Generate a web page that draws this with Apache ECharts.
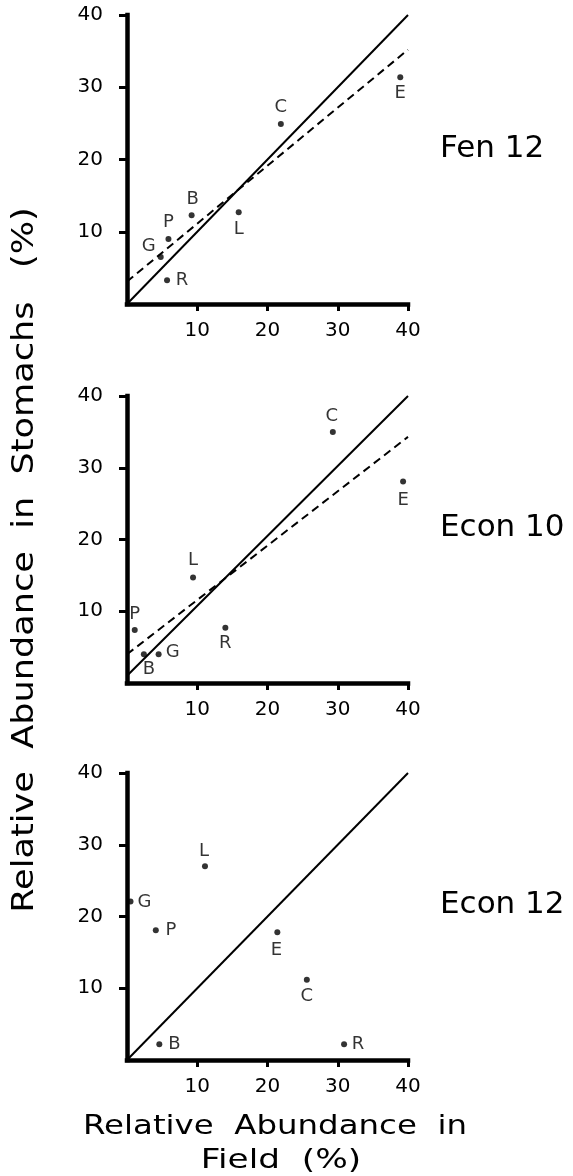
<!DOCTYPE html>
<html><head><meta charset="utf-8">
<script src="https://cdn.jsdelivr.net/npm/echarts@6/dist/echarts.min.js"></script>
<style>html,body{margin:0;padding:0;background:#fff}#c{width:573px;height:1176px}</style>
</head><body><div id="c"></div>
<script>
// ---- data ----
const panelNames = ['Fen 12', 'Econ 10', 'Econ 12'];
const tickValues = [10, 20, 30, 40];

const fen12Letters = ['C', 'E', 'B', 'L', 'P', 'G', 'R'];
const fen12Field   = [21.9, 38.9, 9.2, 15.9, 5.9, 4.8, 5.7];
const fen12Stomach = [24.9, 31.4, 12.3, 12.7, 9.0, 6.5, 3.3];
const fen12Solid   = [[0, 0], [40, 40]];
const fen12Dashed  = [[0, 3.1], [40, 35.2]];

const econ10Letters = ['C', 'E', 'L', 'R', 'P', 'B', 'G'];
const econ10Field   = [29.3, 39.3, 9.4, 14.0, 1.1, 2.4, 4.5];
const econ10Stomach = [35.0, 28.1, 14.7, 7.7, 7.4, 4.0, 4.0];
const econ10Solid   = [[0, 1], [40, 40]];
const econ10Dashed  = [[0, 4.0], [40, 34.3]];

const econ12Letters = ['L', 'G', 'P', 'E', 'C', 'B', 'R'];
const econ12Field   = [11.1, 0.5, 4.1, 21.4, 25.6, 4.6, 30.9];
const econ12Stomach = [27.0, 22.1, 18.1, 17.8, 11.2, 2.2, 2.2];
const econ12Solid   = [[0, 0], [40, 40]];

// ---- label placement (offset of letter from its dot, px) ----
const labelOffsets = [
  {C:[0,-17], E:[0,16], B:[1,-16], L:[0,17], P:[0,-17], G:[-12,-11], R:[15,0]},
  {C:[-1,-16], E:[0,19], L:[0,-17], R:[0,16], P:[0,-16], B:[5,15], G:[14,-2]},
  {L:[-1,-15], G:[14,1], P:[15,0], E:[-1,18], C:[0,17], B:[15,0], R:[14,0]}
];

const panels = [
  {letters: fen12Letters, xs: fen12Field, ys: fen12Stomach, solid: fen12Solid, dashed: fen12Dashed},
  {letters: econ10Letters, xs: econ10Field, ys: econ10Stomach, solid: econ10Solid, dashed: econ10Dashed},
  {letters: econ12Letters, xs: econ12Field, ys: econ12Stomach, solid: econ12Solid, dashed: null}
];

const FONT = 'DejaVu Sans';
const grids = [
  {left: 127, width: 281, top: 15, height: 289},
  {left: 127, width: 281, top: 396, height: 287},
  {left: 127, width: 281, top: 773, height: 287}
];

const xAxes = [], yAxes = [], series = [];
panels.forEach((p, i) => {
  xAxes.push({
    type: 'value', gridIndex: i, min: 0, max: 40, interval: 10,
    axisLine: {show: true, lineStyle: {color: '#000', width: 4.5, cap: 'square'}},
    axisTick: {show: true, customValues: tickValues, length: 7, lineStyle: {color: '#000', width: 3}},
    axisLabel: {customValues: tickValues, color: '#000', fontSize: 20, fontFamily: FONT, margin: 17},
    splitLine: {show: false}
  });
  yAxes.push({
    type: 'value', gridIndex: i, min: 0, max: 40, interval: 10,
    axisLine: {show: true, lineStyle: {color: '#000', width: 4.5, cap: 'square'}},
    axisTick: {show: true, customValues: tickValues, length: 8, lineStyle: {color: '#000', width: 3}},
    axisLabel: {customValues: tickValues, color: '#000', fontSize: 20, fontFamily: FONT, margin: 24},
    splitLine: {show: false}
  });
  series.push({
    type: 'line', xAxisIndex: i, yAxisIndex: i, data: p.solid, symbol: 'none',
    lineStyle: {color: '#000', width: 2}, silent: true, z: 3
  });
  if (p.dashed) {
    series.push({
      type: 'line', xAxisIndex: i, yAxisIndex: i, data: p.dashed, symbol: 'none',
      lineStyle: {color: '#000', width: 2, type: [8, 5]}, silent: true, z: 3
    });
  }
  series.push({
    type: 'scatter', xAxisIndex: i, yAxisIndex: i, symbolSize: 6,
    itemStyle: {color: '#000'}, z: 4,
    data: p.letters.map((L, k) => ({
      value: [p.xs[k], p.ys[k]], name: L,
      label: {show: true, position: 'inside', offset: labelOffsets[i][L], formatter: L,
              color: '#000', fontSize: 18, fontFamily: FONT}
    }))
  });
});

const panelLabelY = [149, 528, 905];
const graphic = panelNames.map((n, i) => ({
  type: 'text', x: 440, y: panelLabelY[i],
  style: {text: n, font: '31px "' + FONT + '"', fill: '#000', textAlign: 'left', textVerticalAlign: 'middle'}
}));
graphic.push({
  type: 'text', x: 275, y: 1127, scaleX: 1.2,
  style: {text: 'Relative  Abundance  in', font: '27px "' + FONT + '"', fill: '#000', textAlign: 'center', textVerticalAlign: 'middle'}
});
graphic.push({
  type: 'text', x: 281, y: 1161, scaleX: 1.27,
  style: {text: 'Field  (%)', font: '27px "' + FONT + '"', fill: '#000', textAlign: 'center', textVerticalAlign: 'middle'}
});
graphic.push({
  type: 'text', x: 25, y: 560, rotation: Math.PI / 2, scaleX: 1.17,
  style: {text: 'Relative  Abundance  in  Stomachs   (%)', font: '30px "' + FONT + '"', fill: '#000', textAlign: 'center', textVerticalAlign: 'middle'}
});

const chart = echarts.init(document.getElementById('c'), null, {renderer: 'canvas'});
chart.setOption({
  animation: false,
  backgroundColor: '#fff',
  grid: grids,
  xAxis: xAxes,
  yAxis: yAxes,
  series: series,
  graphic: graphic
});
</script></body></html>
